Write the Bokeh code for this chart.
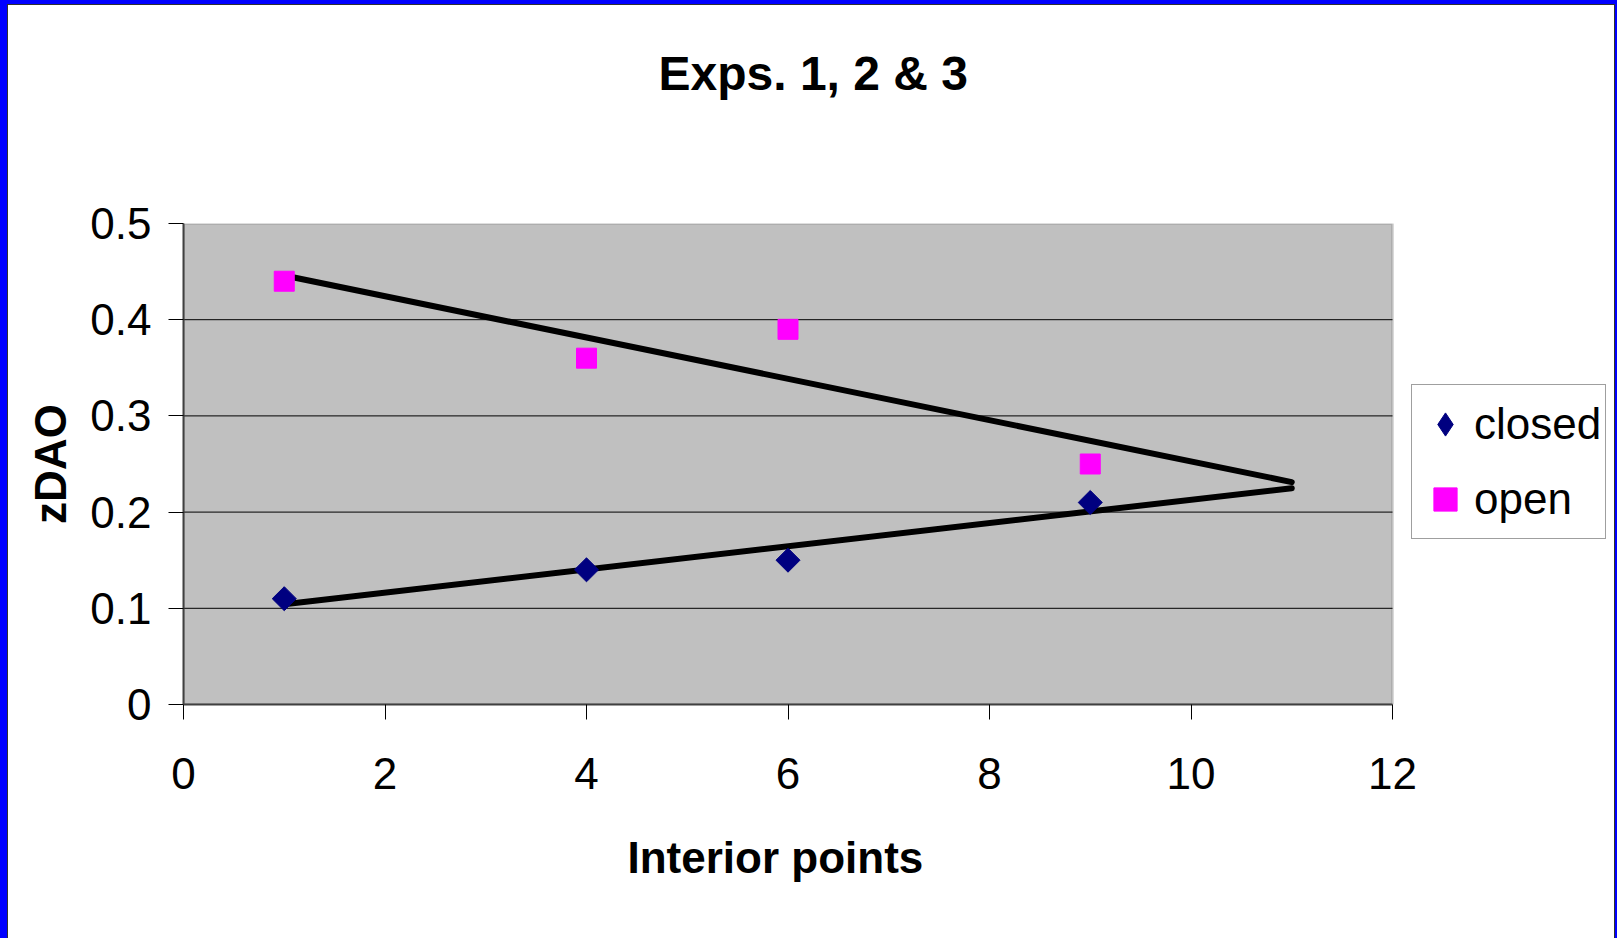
import numpy as np
from bokeh.plotting import figure
from bokeh.models import (Range1d, FixedTicker, Legend, LegendItem, ColumnDataSource,
                          Title, BoxAnnotation)
from bokeh.layouts import column
from bokeh.embed import file_html
from bokeh.resources import INLINE

# ---- data ----
interior_points = [1, 4, 6, 9]
closed_vals = [0.11, 0.14, 0.15, 0.21]
open_vals = [0.44, 0.36, 0.39, 0.25]
trend_extent = [1, 11]          # Excel linear trendlines, forecast forward to 11
x_ticks = [0, 2, 4, 6, 8, 10, 12]
x_tick_labels = ["0", "2", "4", "6", "8", "10", "12"]
y_ticks = [0, 0.1, 0.2, 0.3, 0.4, 0.5]
y_tick_labels = ["0", "0.1", "0.2", "0.3", "0.4", "0.5"]
series_names = ["closed", "open"]
title_text = "Exps. 1, 2 & 3"
x_title = "Interior points"
y_title = "zDAO"

FONT = "Liberation Sans"

# ---- layout constants (pixels) ----
FIG_W, FIG_H = 1606, 933
MB_LEFT, MB_RIGHT, MB_TOP, MB_BOTTOM = 175, 4, 218, 234
PLOT_AREA_W = 1209               # pixel width of the grey plot area (x 0..12)
frame_w = FIG_W - MB_LEFT - MB_RIGHT
x_min, x_max = x_ticks[0], x_ticks[-1]
y_min, y_max = y_ticks[0], y_ticks[-1]
x_end = x_min + (x_max - x_min) * frame_w / PLOT_AREA_W

p = figure(width=FIG_W, height=FIG_H,
           x_range=Range1d(x_min, x_end), y_range=Range1d(y_min, y_max),
           output_backend="svg", toolbar_location=None,
           min_border_left=MB_LEFT, min_border_right=MB_RIGHT,
           min_border_top=MB_TOP, min_border_bottom=MB_BOTTOM)
p.styles = {"background-color": "#FFFFFF"}

# spacer between frame and title
spacer = Title(text=" ", text_font_size="10px", standoff=111)
p.add_layout(spacer, "above")

p.title.text = title_text
p.title.align = "left"
p.title.offset = 475
p.title.standoff = 0
p.title.vertical_align = "bottom"
p.title.text_font = FONT
p.title.text_font_size = "48px"
p.title.text_font_style = "bold"
p.title.text_color = "#000000"

p.background_fill_color = "#FFFFFF"
p.border_fill_color = "#FFFFFF"
p.outline_line_color = None
p.xgrid.visible = False
p.ygrid.visible = False

# grey plot area
plot_area = BoxAnnotation(left=x_min, right=x_max, bottom=y_min, top=y_max,
                          fill_color="#C0C0C0", fill_alpha=1,
                          line_color="#808080", line_width=3, level="underlay")
p.add_layout(plot_area)

# horizontal gridlines, only across the plot area
grid_y = y_ticks[1:-1]
p.segment(x0=[x_min] * len(grid_y), x1=[x_max] * len(grid_y), y0=grid_y, y1=grid_y,
          line_color="#000000", line_width=1)

for ax in (p.xaxis[0], p.yaxis[0]):
    ax.axis_line_color = "#404040"
    ax.axis_line_width = 2
    ax.major_tick_line_color = "#000000"
    ax.major_tick_in = 0
    ax.major_tick_out = 15
    ax.minor_tick_line_color = None
    ax.major_label_text_font = FONT
    ax.major_label_text_font_size = "44px"
    ax.major_label_text_color = "#000000"
    ax.axis_label_text_font = FONT
    ax.axis_label_text_font_size = "44px"
    ax.axis_label_text_font_style = "bold"
    ax.axis_label_text_color = "#000000"

p.xaxis.bounds = (x_min, x_max)
p.xaxis.ticker = FixedTicker(ticks=x_ticks)
p.xaxis.major_label_overrides = {t: l for t, l in zip(x_ticks, x_tick_labels)}
p.yaxis.ticker = FixedTicker(ticks=y_ticks)
p.yaxis.major_label_overrides = {t: l for t, l in zip(y_ticks, y_tick_labels)}
p.xaxis.major_label_standoff = 38
p.yaxis.major_label_standoff = 17
p.yaxis.axis_label = y_title
p.yaxis.axis_label_standoff = 12

# x-axis title, centred under the grey plot area (spacer + title below the axis)
x_spacer = Title(text=" ", text_font_size="10px", standoff=28)
p.add_layout(x_spacer, "below")
x_axis_title = Title(text=x_title, align="left", offset=444, standoff=0,
                     vertical_align="top", text_font=FONT, text_font_size="44px",
                     text_font_style="bold", text_color="#000000")
p.add_layout(x_axis_title, "below")

# trendlines (linear least squares, as Excel draws them)
tx = np.array(trend_extent, dtype=float)
c_fit = np.polyfit(interior_points, closed_vals, 1)
o_fit = np.polyfit(interior_points, open_vals, 1)
p.line(tx, np.polyval(o_fit, tx), line_color="#000000", line_width=6, line_cap="round")
p.line(tx, np.polyval(c_fit, tx), line_color="#000000", line_width=6, line_cap="round")

src = ColumnDataSource(dict(x=interior_points, closed=closed_vals, open=open_vals))
# diamond key glyph (legend keys ignore marker angle); hidden under the rotated squares
r_closed_key = p.scatter("x", "closed", source=src, marker="diamond", size=22,
                         fill_color="#000080", line_color="#000080")
r_closed = p.scatter("x", "closed", source=src, marker="square", angle=np.pi / 4,
                     size=17, fill_color="#000080", line_color="#000080")
r_open = p.scatter("x", "open", source=src, marker="square",
                   size=20, fill_color="#FF00FF", line_color="#FF00FF")

legend = Legend(items=[LegendItem(label=series_names[0], renderers=[r_closed_key]),
                       LegendItem(label=series_names[1], renderers=[r_open])],
                location=(1228, 165))
legend.label_text_font = FONT
legend.label_text_font_size = "44px"
legend.label_text_color = "#000000"
legend.border_line_color = "#404040"
legend.border_line_width = 1
legend.background_fill_color = "#FFFFFF"
legend.background_fill_alpha = 1
legend.glyph_width = 58
legend.glyph_height = 70
legend.label_height = 70
legend.label_standoff = 0
legend.spacing = 5
legend.padding = 4
legend.margin = 0
p.add_layout(legend, "center")

inner = column(p, styles={"background-color": "#303030",
                          "padding": "1px 1px 0px 1px"})
layout = column(inner, styles={"background-color": "#0000FF",
                               "padding": "4px 2px 0px 7px"})

open("out.html", "w").write(file_html(layout, INLINE))
